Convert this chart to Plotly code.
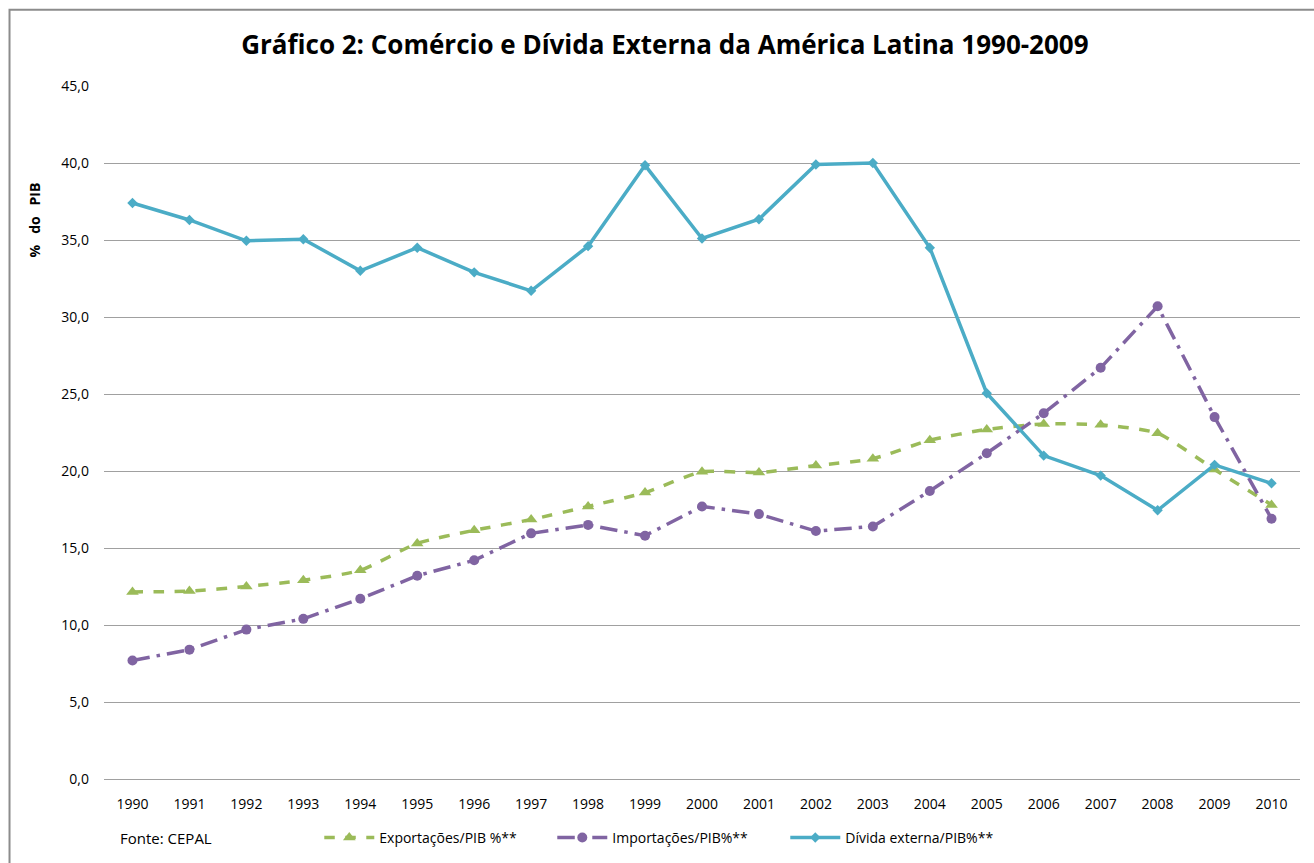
import plotly.graph_objects as go

years = [str(y) for y in range(1990, 2011)]
exportacoes = [12.15, 12.2, 12.5, 12.9, 13.55, 15.3, 16.15, 16.85, 17.7, 18.6, 19.95,
               19.9, 20.35, 20.8, 22.0, 22.7, 23.05, 23.0, 22.45, 20.1, 17.8]
importacoes = [7.7, 8.4, 9.7, 10.4, 11.7, 13.2, 14.2, 15.95, 16.5, 15.8, 17.7,
               17.2, 16.1, 16.4, 18.7, 21.15, 23.75, 26.7, 30.7, 23.5, 16.9]
divida = [37.4, 36.3, 34.95, 35.05, 33.0, 34.5, 32.9, 31.7, 34.6, 39.85, 35.1,
          36.35, 39.9, 40.0, 34.5, 25.05, 21.0, 19.7, 17.45, 20.4, 19.2]

title_text = "Gráfico 2: Comércio e Dívida Externa da América Latina 1990-2009"
y_title = "%\u00a0\u00a0\u00a0do\u00a0\u00a0\u00a0PIB"
source_text = "Fonte: CEPAL"

GREEN = "#9BBB59"
PURPLE = "#8064A2"
BLUE = "#4BACC6"

fig = go.Figure()
fig.add_trace(go.Scatter(
    x=years, y=exportacoes, name="Exportações/PIB %**", mode="lines+markers",
    line=dict(color=GREEN, width=3.5, dash="dash", shape="spline", smoothing=0.6),
    marker=dict(symbol="triangle-up", size=11, color=GREEN)))
fig.add_trace(go.Scatter(
    x=years, y=importacoes, name="Importações/PIB%**", mode="lines+markers",
    line=dict(color=PURPLE, width=3.5, dash="longdashdot"),
    marker=dict(symbol="circle", size=10, color=PURPLE)))
fig.add_trace(go.Scatter(
    x=years, y=divida, name="Dívida externa/PIB%**", mode="lines+markers",
    line=dict(color=BLUE, width=3.5),
    marker=dict(symbol="diamond", size=8, color=BLUE)))

fig.update_layout(
    width=1314, height=863,
    paper_bgcolor="white", plot_bgcolor="white",
    separators=",.",
    font=dict(family="Open Sans, Liberation Sans, sans-serif", size=13, color="#000000"),
    margin=dict(l=103.5, r=13.5, t=86, b=84, autoexpand=False),
    title=dict(text="<b>" + title_text + "</b>", x=0.506, xanchor="center",
               y=0.948, yanchor="middle",
               font=dict(family="Open Sans, sans-serif", size=26, color="#000000")),
    showlegend=True,
    legend=dict(orientation="h", x=0.18, xanchor="left", y=-0.085, yanchor="middle",
                font=dict(size=14, color="#000000"), itemwidth=50,
                entrywidth=168, entrywidthmode="pixels",
                traceorder="normal", bgcolor="rgba(0,0,0,0)"),
)
fig.update_xaxes(type="category", range=[-0.5, 20.5], showgrid=False, showline=True,
                 linecolor="#A0A0A0", linewidth=1, ticks="", ticklabelstandoff=12,
                 automargin=False, tickfont=dict(size=14, color="#000000"),
                 zeroline=False, fixedrange=True)
fig.update_yaxes(range=[0, 45], dtick=5, tickformat=".1f", showgrid=True,
                 gridcolor="#A0A0A0", gridwidth=1, showline=False, zeroline=False,
                 ticks="", ticklabelstandoff=14, automargin=False,
                 tickfont=dict(size=14, color="#000000"), fixedrange=True)

fig.add_annotation(text="<b>" + y_title + "</b>", xref="paper", yref="paper",
                   x=-0.058, y=0.807, textangle=-90, showarrow=False,
                   font=dict(size=14, color="#000000"), xanchor="center", yanchor="middle")
fig.add_annotation(text=source_text, xref="paper", yref="paper",
                   x=0.012, y=-0.085, showarrow=False, xanchor="left", yanchor="middle",
                   font=dict(size=15, color="#000000"))
fig.add_shape(type="rect", xref="paper", yref="paper", x0=-0.079, x1=1.02,
              y0=-0.2, y1=1.11, line=dict(color="#8C8C8C", width=2),
              fillcolor="rgba(0,0,0,0)", layer="below")

fig.write_html("out.html", config={"displayModeBar": False},
               post_script="document.body.style.margin='0px';")
